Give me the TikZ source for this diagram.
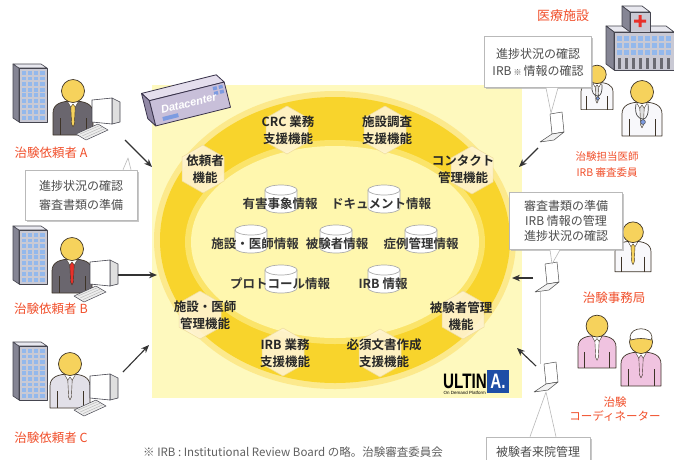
\documentclass[tikz,border=0pt]{standalone}
\usepackage{fontspec}
\setmainfont{Noto Sans CJK JP}
\newfontfamily\jpbold[BoldFont={Noto Sans CJK JP Bold}]{Noto Sans CJK JP}
\newfontfamily\logofont{Liberation Sans}
\usetikzlibrary{arrows.meta,shadows}

\definecolor{panel}{HTML}{FEF9BE}
\definecolor{ringglow}{HTML}{FCE98C}
\definecolor{ringgold}{HTML}{F8D42C}
\definecolor{ringinner}{HTML}{FBE46A}
\definecolor{core}{HTML}{FFF7AE}
\definecolor{hexfill}{HTML}{FFF4D2}
\definecolor{hexedge}{HTML}{EEDC9A}
\definecolor{redlab}{HTML}{F1502C}
\definecolor{calltxt}{HTML}{4C4C4C}
\definecolor{skin}{HTML}{F6D25C}
\definecolor{outl}{HTML}{3E3428}
\definecolor{suit}{HTML}{6A666E}
\definecolor{lightcoat}{HTML}{E2E0E8}
\definecolor{whitecoat}{HTML}{F8F8FB}
\definecolor{pinkcoat}{HTML}{F0C3E0}
\definecolor{bldgfront}{HTML}{C9C9D4}
\definecolor{bldgside}{HTML}{858594}
\definecolor{bldgtop}{HTML}{E8E8EF}
\definecolor{bldgwin}{HTML}{93B8EC}
\definecolor{bldgline}{HTML}{45454F}
\definecolor{dcfront}{HTML}{C8BFD9}
\definecolor{dctop}{HTML}{E4DEED}
\definecolor{dcside}{HTML}{9289A6}
\definecolor{dcline}{HTML}{38324A}
\definecolor{dcblue}{HTML}{7D9BE0}
\definecolor{ultblue}{HTML}{1E4EA6}
\definecolor{arrowc}{HTML}{333333}
\definecolor{crossred}{HTML}{E8302A}

\tikzset{
  hexlabel/.style={font=\jpbold\bfseries\fontsize{12.5}{17}\selectfont, align=center, text=black!85, inner sep=0pt},
  dblabel/.style={font=\jpbold\bfseries\fontsize{12.5}{15}\selectfont, text=black!80, inner sep=0pt},
  rolelabel/.style={font=\fontsize{12.5}{15}\selectfont, text=redlab, align=center, inner sep=0pt},
  callbox/.style={fill=white, draw=gray!55, line width=0.6pt, align=center, text=calltxt,
    drop shadow={shadow xshift=1.6pt, shadow yshift=-1.6pt, fill=gray!60, opacity=0.7}},
  tailline/.style={draw=gray!55, line width=0.6pt},
  flow/.style={-{Stealth[length=8pt,width=6.5pt]}, line width=1.1pt, draw=arrowc},
  hexstyle/.style={fill=hexfill, draw=hexedge, line width=0.5pt, fill opacity=0.9},
  pics/hexbadge/.style={code={
    \filldraw[hexstyle] (0,-24) -- (21,-12) -- (21,12) -- (0,24) -- (-21,12) -- (-21,-12) -- cycle;
  }},
  pics/store/.style={code={
    \filldraw[fill=white, draw=gray!65, line width=0.7pt] (-16,-9) -- (-16,9)
      arc[start angle=180, end angle=0, x radius=16, y radius=5] -- (16,-9) -- cycle;
    \filldraw[fill=white, draw=gray!65, line width=0.7pt] (0,-9) ellipse[x radius=16, y radius=5];
  }},
  pics/person/.style 2 args={code={
    \filldraw[fill=#1, draw=outl, line width=0.7pt]
      (-20,42) -- (-20,20) .. controls (-20,11) and (-12,8) .. (0,8)
      .. controls (12,8) and (20,11) .. (20,20) -- (20,42) -- cycle;
    \draw[outl, line width=0.5pt] (-13,25) -- (-13,42) (13,25) -- (13,42);
    \filldraw[fill=white, draw=outl, line width=0.4pt] (-5.5,8.5) -- (0,18) -- (5.5,8.5) -- cycle;
    \filldraw[fill=#2, draw=outl, line width=0.4pt] (0,11) -- (2.2,14) -- (1.4,31) -- (0,34) -- (-1.4,31) -- (-2.2,14) -- cycle;
    \filldraw[fill=skin, draw=outl, line width=0.7pt] (0,-2) circle[radius=11.5];
  }},
  pics/stetho/.style={code={
    \draw[gray!55!black, line width=0.7pt] (-6,10) .. controls (-8,21) and (-3,25) .. (1,25) .. controls (5,25) and (7,19) .. (6,10);
    \filldraw[fill=dcblue, draw=gray!55!black, line width=0.5pt] (1,28) circle[radius=2.4];
  }},
  pics/nursecap/.style={code={
    \filldraw[fill=white, draw=outl, line width=0.6pt] (-11,-7) .. controls (-10,-18) and (10,-18) .. (11,-7)
      -- (10,-4) .. controls (4,-6) and (-4,-6) .. (-10,-4) -- cycle;
  }},
  pics/office/.style={code={
    \filldraw[fill=bldgside, draw=bldgline, line width=0.6pt] (0,0) -- (6,4) -- (6,58) -- (0,54) -- cycle;
    \filldraw[fill=bldgtop, draw=bldgline, line width=0.6pt] (0,0) -- (28,0) -- (34,4) -- (6,4) -- cycle;
    \filldraw[fill=bldgfront, draw=bldgline, line width=0.6pt] (6,4) rectangle (34,58);
    \foreach \c in {0,...,3} \foreach \r in {0,...,8}
      \fill[bldgwin] (8.5+\c*6.2, 7+\r*5.6) rectangle ++(4.4,3.8);
  }},
  pics/monitor/.style={code={
    \filldraw[fill=gray!25, draw=bldgline, line width=0.6pt] (20,-2) -- (28,2) -- (28,22) -- (20,24) -- cycle;
    \filldraw[fill=white, draw=bldgline, line width=0.6pt] (0,0) -- (20,-2) -- (20,24) -- (0,22) -- cycle;
    \filldraw[fill=gray!15, draw=bldgline, line width=0.5pt] (-16,34) -- (6,24) -- (16,30) -- (-6,40) -- cycle;
    \draw[gray!60, line width=0.4pt] (-12,34) -- (8,25.5) (-9.5,35.8) -- (10.5,27) (-7,37.6) -- (13,28.6);
  }},
  pics/laptop/.style={code={
    \filldraw[fill=white, draw=gray!60!black, line width=0.5pt] (-2,-14) -- (10,-16) -- (12,4) -- (0,6) -- cycle;
    \filldraw[fill=gray!10, draw=gray!60!black, line width=0.5pt] (0,6) -- (12,4) -- (2,12) -- (-12,14) -- cycle;
  }},
  pics/hospital/.style={code={
    \filldraw[fill=bldgtop, draw=bldgline, line width=0.7pt] (10,22) -- (2,16) -- (62,16) -- (70,22) -- cycle;
    \filldraw[fill=bldgside, draw=bldgline, line width=0.7pt] (10,22) -- (2,16) -- (2,54) -- (10,60) -- cycle;
    \filldraw[fill=bldgfront, draw=bldgline, line width=0.7pt] (10,22) rectangle (70,60);
    \foreach \c in {0,...,7} \foreach \r in {0,1,2}
      \fill[bldgwin] (13+\c*7,26+\r*7) rectangle ++(4.5,4.5);
    \foreach \c in {0,...,7}
      \fill[bldgline!80] (13.5+\c*7,48) rectangle ++(3.5,11);
    \filldraw[fill=bldgtop, draw=bldgline, line width=0.7pt] (26,2) -- (18,-4) -- (38,-4) -- (46,2) -- cycle;
    \filldraw[fill=bldgside, draw=bldgline, line width=0.7pt] (26,2) -- (18,-4) -- (18,16) -- (26,22) -- cycle;
    \filldraw[fill=bldgfront, draw=bldgline, line width=0.7pt] (26,2) rectangle (46,22);
    \fill[crossred] (34.5,5) rectangle (37.5,17) (30,9.5) rectangle (42,12.5);
  }},
}

\begin{document}
\begin{tikzpicture}[x=1pt, y=-1pt, line join=round]
\useasboundingbox (0,0) rectangle (674,459);
\clip (0,0) rectangle (674,459);
\fill[white] (0,0) rectangle (674,459);

% ---- platform panel and ring ----
\fill[panel] (152,85) rectangle (522,398);
\fill[ringglow] (335,240) ellipse[x radius=181, y radius=149];
\fill[ringgold] (335,240) ellipse[x radius=175, y radius=143];
\fill[ringinner] (335,242) ellipse[x radius=150, y radius=102];
\fill[core] (335,242) ellipse[x radius=144, y radius=96];

% ---- function badges on the ring ----
\pic at (203,169) {hexbadge};
\pic at (287,130) {hexbadge};
\pic at (385,130) {hexbadge};
\pic at (472,170) {hexbadge};
\pic at (200,315) {hexbadge};
\pic at (283,352) {hexbadge};
\pic at (380,353) {hexbadge};
\pic at (463,315) {hexbadge};

\node[hexlabel] (fSponsor) at (205,169) {依頼者\\機能};
\node[hexlabel] (fCRC) at (288,130) {CRC 業務\\支援機能};
\node[hexlabel] (fSurvey) at (387,130) {施設調査\\支援機能};
\node[hexlabel] (fContact) at (463,169) {コンタクト\\管理機能};
\node[hexlabel] (fSite) at (205,315) {施設・医師\\管理機能};
\node[hexlabel] (fIRB) at (285,353) {IRB 業務\\支援機能};
\node[hexlabel] (fDocs) at (384,353) {必須文書作成\\支援機能};
\node[hexlabel] (fSubject) at (461,316) {被験者管理\\機能};

% ---- data stores ----
\pic at (281,199) {store};
\pic at (384,199) {store};
\pic at (251,239) {store};
\pic at (336,239) {store};
\pic at (421,239) {store};
\pic at (281,279) {store};
\pic at (384,279) {store};

\node[dblabel] (dAE) at (280,204) {有害事象情報};
\node[dblabel] (dDoc) at (381,204) {ドキュメント情報};
\node[dblabel] (dSite) at (255,244) {施設・医師情報};
\node[dblabel] (dSubj) at (337,244) {被験者情報};
\node[dblabel] (dCase) at (421,244) {症例管理情報};
\node[dblabel] (dProt) at (280,284) {プロトコール情報};
\node[dblabel] (dIRB) at (383,284) {IRB 情報};

% ---- datacenter box ----
\begin{scope}[rotate around={14:(190,104)}]
  \filldraw[fill=dctop, draw=dcline, line width=0.8pt] (151.5,91) -- (145.5,82) -- (222.5,82) -- (228.5,91) -- cycle;
  \filldraw[fill=dcside, draw=dcline, line width=0.8pt] (151.5,91) -- (145.5,82) -- (145.5,108) -- (151.5,117) -- cycle;
  \filldraw[fill=dcfront, draw=dcline, line width=0.8pt] (151.5,91) rectangle (228.5,117);
  \fill[dcblue] (216,93) rectangle ++(4,3.5) (222,93) rectangle ++(4,3.5) (216,98) rectangle ++(4,3.5) (222,98) rectangle ++(4,3.5);
  \fill[dcblue] (160,110) rectangle ++(16,4);
  \node[transform shape, font=\logofont\bfseries\itshape\fontsize{11}{11}\selectfont, text=white, inner sep=0pt] (dc) at (189,103) {Datacenter};
\end{scope}

% ---- ULTINA logo ----
\fill[ultblue] (487,370) rectangle (509,393);
\node[font=\logofont\bfseries\fontsize{19}{19}\selectfont, inner sep=0pt, anchor=east] (ult) at (487,381) {\scalebox{0.8}[1.1]{ULTIN}};
\node[font=\logofont\bfseries\fontsize{19}{19}\selectfont, text=white, inner sep=0pt] (ultA) at (498,381) {\scalebox{0.8}[1.1]{A.}};
\node[font=\logofont\fontsize{4.5}{5}\selectfont, inner sep=0pt, anchor=east] (ultsub) at (486,393) {On Demand Platform};

% ---- sponsors (left) ----
\pic at (13,64) {office};
\pic at (73,93) {person={suit}{skin}};
\pic at (92,100) {monitor};
\node[rolelabel] (sA) at (51,153) {治験依頼者 A};

\pic at (13,226) {office};
\pic at (72,251) {person={suit}{crossred}};
\pic at (90,262) {monitor};
\node[rolelabel] (sB) at (51,309) {治験依頼者 B};

\pic at (13,342) {office};
\pic at (70,366) {person={lightcoat}{lightcoat}};
\pic at (90,376) {monitor};
\node[rolelabel] (sC) at (51,438) {治験依頼者 C};

\node[callbox, font=\fontsize{12}{19}\selectfont, minimum width=112pt, minimum height=50pt] (cbL) at (81,195) {進捗状況の確認\\審査書類の準備};
\coordinate (tipL) at (128,158);
\fill[white] ([xshift=42pt]cbL.north) -- (tipL) -- ([xshift=50pt]cbL.north) -- cycle;
\draw[tailline] ([xshift=42pt]cbL.north) -- (tipL) -- ([xshift=50pt]cbL.north);

\coordinate (aA0) at (125,140); \coordinate (aA1) at (152,167);
\coordinate (aB0) at (118,275); \coordinate (aB1) at (157,275);
\coordinate (aC0) at (123,372); \coordinate (aC1) at (149,345);
\draw[flow] (aA0) -- (aA1);
\draw[flow] (aB0) -- (aB1);
\draw[flow] (aC0) -- (aC1);

% ---- medical institution (right) ----
\node[rolelabel, font=\fontsize{13}{15}\selectfont] (site) at (563,16) {医療施設};
\pic at (604,10) {hospital};
\pic[scale=0.8] at (597,76) {person={whitecoat}{gray!25}};
\pic[scale=0.8] at (597,76) {stetho};
\pic at (642,94) {person={whitecoat}{gray!25}};
\pic at (642,94) {stetho};
\node[rolelabel, font=\fontsize{10.5}{16}\selectfont] (doc) at (607,165) {治験担当医師\\IRB 審査委員};

\pic[scale=0.9] at (633,234) {person={whitecoat}{skin}};
\node[rolelabel] (office) at (614,298) {治験事務局};

\pic[scale=0.95] at (597,328) {person={pinkcoat}{white}};
\pic at (641,344) {person={pinkcoat}{pinkcoat}};
\pic at (641,344) {nursecap};
\node[rolelabel, font=\fontsize{11.5}{14}\selectfont] (crc) at (615,409) {治験\\コーディネーター};

% laptops and their callouts
\coordinate (lap1) at (552,128);
\coordinate (lap2) at (547,278);
\coordinate (lap3) at (546,378);
\pic at (lap1) {laptop};
\pic at (lap2) {laptop};
\pic at (lap3) {laptop};
\coordinate (lap2foot) at (540,292);
\coordinate (lap3top) at (540,364);
\draw[gray!45, line width=0.5pt] (lap2foot) -- (lap3top);

\node[callbox, font=\fontsize{12}{17}\selectfont, minimum width=107pt, minimum height=51pt] (cb1) at (538,62)
  {進捗状況の確認\\IRB\,{\fontsize{8}{8}\selectfont ※}\,情報の確認};
\coordinate (tip1) at (551,113);
\fill[white] ([xshift=8pt]cb1.south) -- (tip1) -- ([xshift=20pt]cb1.south) -- cycle;
\draw[tailline] ([xshift=8pt]cb1.south) -- (tip1) -- ([xshift=20pt]cb1.south);

\node[callbox, font=\fontsize{12}{15}\selectfont, minimum width=113pt, minimum height=57pt] (cb2) at (566,221)
  {審査書類の準備\\IRB 情報の管理\\進捗状況の確認};
\coordinate (tip2) at (552,264);
\fill[white] ([xshift=-16pt]cb2.south) -- (tip2) -- ([xshift=-6pt]cb2.south) -- cycle;
\draw[tailline] ([xshift=-16pt]cb2.south) -- (tip2) -- ([xshift=-6pt]cb2.south);

\node[callbox, font=\fontsize{12}{15}\selectfont, minimum width=104pt, minimum height=30pt] (cb3) at (538,452) {被験者来院管理};
\coordinate (tip3) at (546,392);
\fill[white] ([xshift=-8pt]cb3.north) -- (tip3) -- ([xshift=18pt]cb3.north) -- cycle;
\draw[tailline] ([xshift=-8pt]cb3.north) -- (tip3) -- ([xshift=18pt]cb3.north);

\coordinate (aR10) at (538,148); \coordinate (aR11) at (519,167);
\coordinate (aR20) at (533,278); \coordinate (aR21) at (512,278);
\coordinate (aR30) at (536,366); \coordinate (aR31) at (517,348);
\draw[flow] (aR10) -- (aR11);
\draw[flow] (aR20) -- (aR21);
\draw[flow] (aR30) -- (aR31);

% ---- footnote ----
\node[anchor=south west, inner sep=0pt, font=\fontsize{11.5}{12}\selectfont, text=gray!75!black] (note) at (143,458)
  {※ IRB : Institutional Review Board の略。治験審査委員会};
\end{tikzpicture}
\end{document}
